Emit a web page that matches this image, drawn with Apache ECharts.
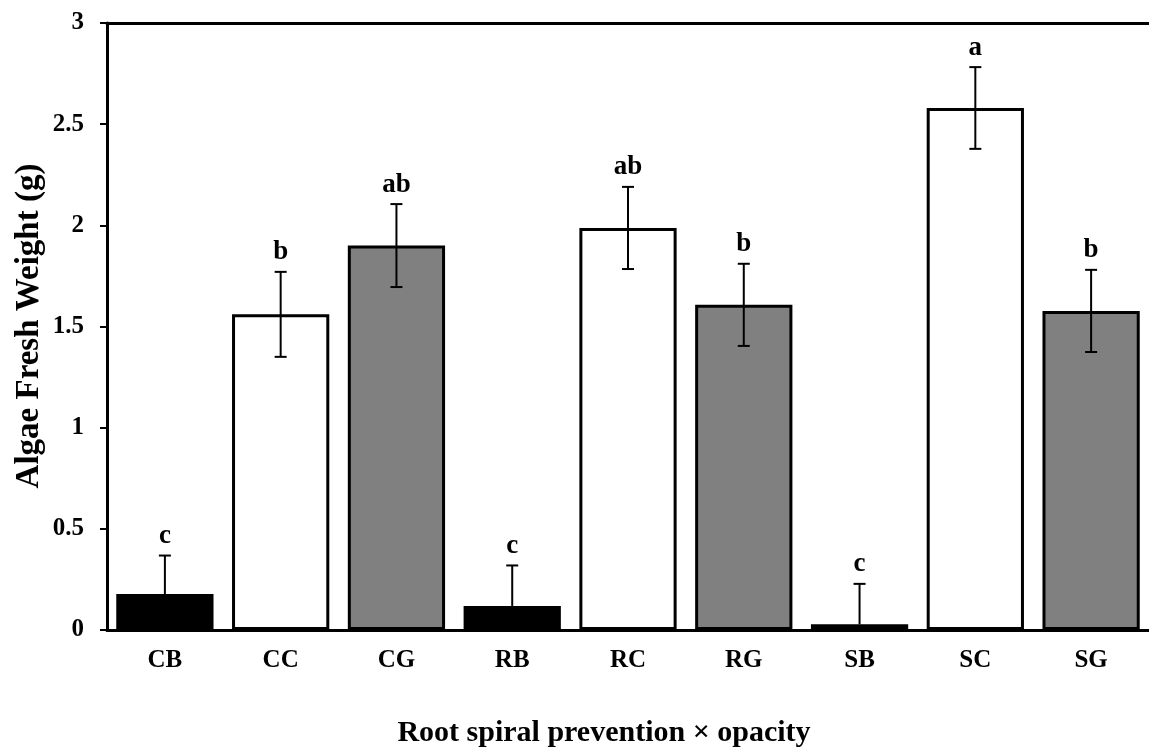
<!DOCTYPE html>
<html>
<head>
<meta charset="utf-8">
<script src="https://cdn.jsdelivr.net/npm/echarts@6/dist/echarts.min.js"></script>
<style>html,body{margin:0;padding:0;background:#fff}#c{width:1149px;height:748px}</style>
</head>
<body>
<div id="c"></div>
<script>
const categories = ['CB','CC','CG','RB','RC','RG','SB','SC','SG'];
const means = [0.178, 1.56, 1.90, 0.119, 1.987, 1.607, 0.028, 2.58, 1.577];
const errors = [0.19, 0.21, 0.205, 0.2, 0.203, 0.203, 0.2, 0.202, 0.203];
const letters = ['c','b','ab','c','ab','b','c','a','b'];
const fills = ['#000000','#ffffff','#808080','#000000','#ffffff','#808080','#000000','#ffffff','#808080'];
const yTicks = [0, 0.5, 1, 1.5, 2, 2.5, 3];
const xTitle = 'Root spiral prevention \u00d7 opacity';
const yTitle = 'Algae Fresh Weight (g)';

const FONT = '"Liberation Serif", "Times New Roman", serif';
const el = document.getElementById('c');
const chart = echarts.init(el);
chart.setOption({
  animation: false,
  grid: {left: 107, right: 0, top: 23, bottom: 118, containLabel: false},
  graphic: [
    {type: 'text', x: 604, y: 733, style: {text: xTitle, align: 'center', verticalAlign: 'middle', fill: '#000', font: 'bold 30px ' + FONT}},
    {type: 'text', x: 29, y: 326, rotation: Math.PI / 2, style: {text: yTitle, align: 'center', verticalAlign: 'middle', fill: '#000', font: 'bold 33px ' + FONT}}
  ],
  xAxis: [{
    type: 'category', data: categories,
    axisLine: {lineStyle: {color: '#000', width: 3}},
    axisTick: {show: false},
    axisLabel: {color: '#000', fontFamily: FONT, fontWeight: 'bold', fontSize: 25, margin: 18}
  }, {
    type: 'category', data: categories, position: 'top',
    axisLine: {show: true, lineStyle: {color: '#000', width: 3}},
    axisTick: {show: false}, axisLabel: {show: false}
  }],
  yAxis: {
    type: 'value', min: 0, max: 3, interval: 0.5,
    axisLine: {show: true, lineStyle: {color: '#000', width: 3}},
    axisTick: {show: true, length: 7, lineStyle: {color: '#000', width: 2}},
    splitLine: {show: false},
    axisLabel: {color: '#000', fontFamily: FONT, fontWeight: 'bold', fontSize: 25, margin: 23,
      formatter: v => yTicks.includes(v) ? String(v) : ''}
  },
  series: [{
    type: 'bar', barWidth: '84%',
    data: means.map((v, i) => ({value: v, itemStyle: {color: fills[i], borderColor: '#000', borderWidth: 3}})),
    z: 2
  }, {
    type: 'custom', z: 5,
    data: means.map((v, i) => [i, v, errors[i]]),
    renderItem: function (params, api) {
      const idx = params.dataIndex;
      const i = api.value(0), m = api.value(1), e = api.value(2);
      const top = api.coord([i, m + e]);
      const mid = api.coord([i, m]);
      const bot = api.coord([i, Math.max(0, m - e)]);
      const x = top[0], hw = 6;
      const style = {stroke: '#000', lineWidth: 2};
      const upOnly = fills[idx] === '#000000';
      const children = [
        {type: 'line', shape: {x1: x, y1: top[1], x2: x, y2: upOnly ? mid[1] : bot[1]}, style},
        {type: 'line', shape: {x1: x - hw, y1: top[1], x2: x + hw, y2: top[1]}, style}
      ];
      if (!upOnly) children.push({type: 'line', shape: {x1: x - hw, y1: bot[1], x2: x + hw, y2: bot[1]}, style});
      children.push({type: 'text', style: {text: letters[idx], x: x, y: top[1] - 6,
        align: 'center', verticalAlign: 'bottom', fill: '#000', font: 'bold 27px ' + FONT}});
      return {type: 'group', children};
    }
  }]
});
</script>
</body>
</html>
